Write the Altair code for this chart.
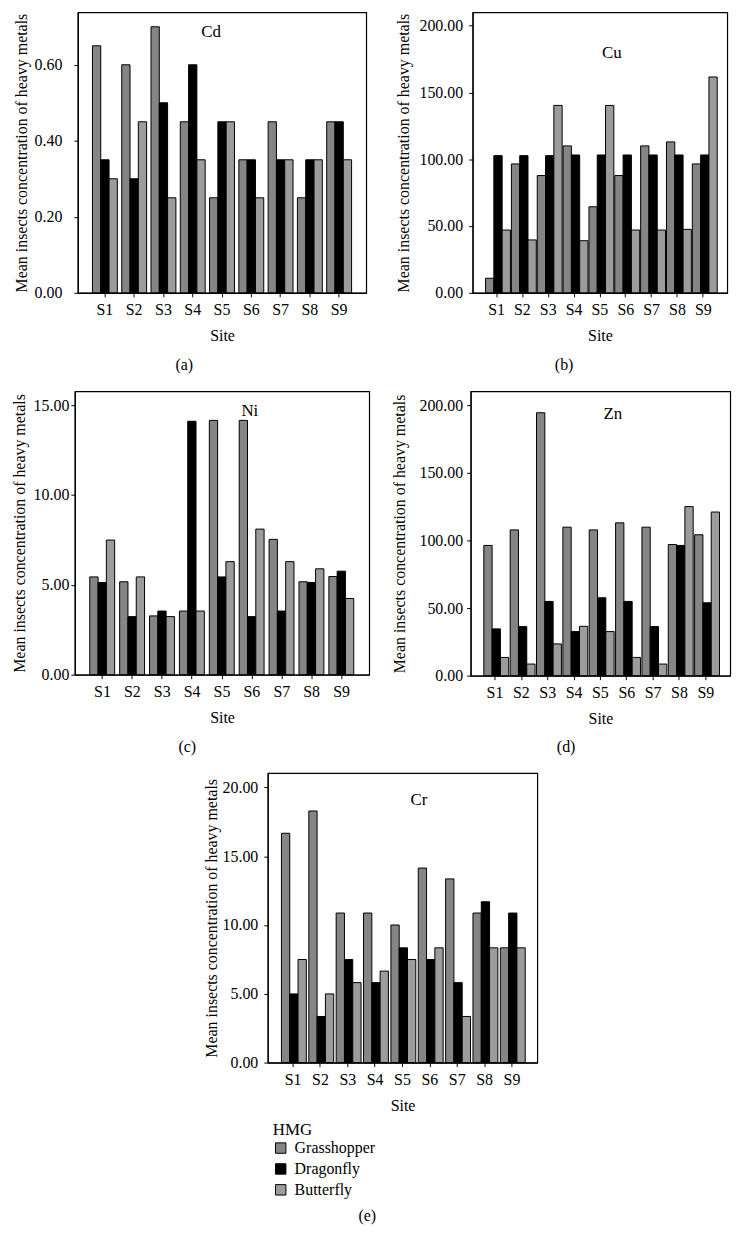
import altair as alt
import pandas as pd

FONT = "Liberation Serif"

sites = ["S1", "S2", "S3", "S4", "S5", "S6", "S7", "S8", "S9"]
groups = ["Grasshopper", "Dragonfly", "Butterfly"]
fills = ["#858585", "#000000", "#9c9c9c"]

cd_grasshopper = [0.65, 0.60, 0.70, 0.45, 0.25, 0.35, 0.45, 0.25, 0.45]
cd_dragonfly = [0.35, 0.30, 0.50, 0.60, 0.45, 0.35, 0.35, 0.35, 0.45]
cd_butterfly = [0.30, 0.45, 0.25, 0.35, 0.45, 0.25, 0.35, 0.35, 0.35]

cu_grasshopper = [10.9, 96.5, 87.8, 110.0, 64.4, 87.8, 110.0, 113.0, 96.5]
cu_dragonfly = [102.7, 102.7, 102.7, 103.2, 103.2, 103.2, 103.2, 103.2, 103.2]
cu_butterfly = [47.0, 39.6, 140.3, 39.0, 140.3, 47.0, 47.0, 47.5, 161.6]

ni_grasshopper = [5.44, 5.17, 3.27, 3.54, 14.15, 14.15, 7.53, 5.17, 5.46]
ni_dragonfly = [5.13, 3.23, 3.54, 14.10, 5.44, 3.23, 3.54, 5.13, 5.76]
ni_butterfly = [7.49, 5.44, 3.23, 3.54, 6.29, 8.10, 6.29, 5.89, 4.24]

zn_grasshopper = [96.3, 107.8, 194.4, 109.8, 107.8, 113.0, 109.8, 97.0, 104.2]
zn_dragonfly = [34.6, 36.3, 54.9, 32.6, 57.6, 54.9, 36.3, 96.3, 53.9]
zn_butterfly = [13.5, 8.6, 23.5, 36.5, 32.6, 13.5, 8.6, 125.0, 121.0]

cr_grasshopper = [16.67, 18.29, 10.87, 10.87, 10.00, 14.14, 13.35, 10.87, 8.34]
cr_dragonfly = [4.99, 3.35, 7.49, 5.81, 8.34, 7.49, 5.81, 11.69, 10.87]
cr_butterfly = [7.49, 4.99, 5.81, 6.65, 7.49, 8.34, 3.35, 8.34, 8.34]

y_title = "Mean insects concentration of heavy metals"


def panel(g, d, b, metal, letter, ymax, ticks, w, h, lab_pad, title_x,
          metal_xy, letter_xy, legend=None):
    df = pd.DataFrame({
        "site": sites * 3,
        "group": [groups[0]] * 9 + [groups[1]] * 9 + [groups[2]] * 9,
        "value": g + d + b,
    })
    bars = alt.Chart(df).mark_bar(stroke="black", strokeWidth=1).encode(
        x=alt.X("site:N", sort=sites, title="Site",
                scale=alt.Scale(paddingInner=0.15, paddingOuter=0.5),
                axis=alt.Axis(labelAngle=0, labelPadding=5, tickSize=4,
                              titleY=43, titleBaseline="middle")),
        xOffset=alt.XOffset("group:N", sort=groups,
                            scale=alt.Scale(paddingInner=0, paddingOuter=0)),
        y=alt.Y("value:Q", title=y_title,
                scale=alt.Scale(domain=[0, ymax], nice=False, zero=True),
                axis=alt.Axis(values=ticks, format=".2f", tickSize=4,
                              labelPadding=lab_pad, titleX=title_x,
                              titleBaseline="middle")),
        fill=alt.Fill("group:N", sort=groups,
                      scale=alt.Scale(domain=groups, range=fills),
                      legend=legend),
    )
    metal_txt = alt.Chart(pd.DataFrame({"t": [metal]})).mark_text(
        font=FONT, fontSize=17, color="black", baseline="middle"
    ).encode(x=alt.value(metal_xy[0]), y=alt.value(metal_xy[1]), text="t:N")
    letter_txt = alt.Chart(pd.DataFrame({"t": [letter]})).mark_text(
        font=FONT, fontSize=16, color="black", baseline="middle"
    ).encode(x=alt.value(letter_xy[0]), y=alt.value(letter_xy[1]), text="t:N")
    return alt.layer(bars, metal_txt, letter_txt).properties(width=w, height=h)


pa = panel(cd_grasshopper, cd_dragonfly, cd_butterfly, "Cd", "(a)", 0.738,
           [0, 0.2, 0.4, 0.6], 290, 282, 12, -57, (134, 20), (107, 355))
pb = panel(cu_grasshopper, cu_dragonfly, cu_butterfly, "Cu", "(b)", 210,
           [0, 50, 100, 150, 200], 256, 282, 6, -69, (140, 41), (92, 355))
pc = panel(ni_grasshopper, ni_dragonfly, ni_butterfly, "Ni", "(c)", 15.77,
           [0, 5, 10, 15], 296, 285, 2, -56, (176, 20), (113, 358))
pd_ = panel(zn_grasshopper, zn_dragonfly, zn_butterfly, "Zn", "(d)", 210.3,
            [0, 50, 100, 150, 200], 261, 286, 4, -72, (143, 23), (96, 358))

legend_e = alt.Legend(
    title="HMG", orient="none", legendX=5, legendY=351,
    symbolType="square", symbolSize=110, symbolStrokeColor="black",
    symbolStrokeWidth=1, labelFont=FONT, labelFontSize=16, labelColor="black",
    titleFont=FONT, titleFontSize=17, titleColor="black",
    titleFontWeight="normal", rowPadding=5, titlePadding=1, labelOffset=6,
)
pe = panel(cr_grasshopper, cr_dragonfly, cr_butterfly, "Cr", "(e)", 21.04,
           [0, 5, 10, 15, 20], 271, 291, 6, -57, (152, 27), (100, 445),
           legend=legend_e)

row1 = alt.hconcat(pa, pb, spacing=28)
row2 = alt.hconcat(pc, pd_, spacing=20)

chart = alt.vconcat(row1, row2, pe, spacing=16, center=True).resolve_scale(
    fill="independent"
).properties(
    padding={"left": 2, "top": 0, "right": 2, "bottom": 0}
).configure_view(
    stroke="black", strokeWidth=1.2
).configure_axis(
    labelFont=FONT, labelFontSize=16, labelColor="black",
    titleFont=FONT, titleFontSize=16, titleColor="black",
    titleFontWeight="normal", domainColor="black", domainWidth=1.2,
    tickColor="black", grid=False,
)

chart.save("out.html", embed_options={"renderer": "svg", "actions": False})
